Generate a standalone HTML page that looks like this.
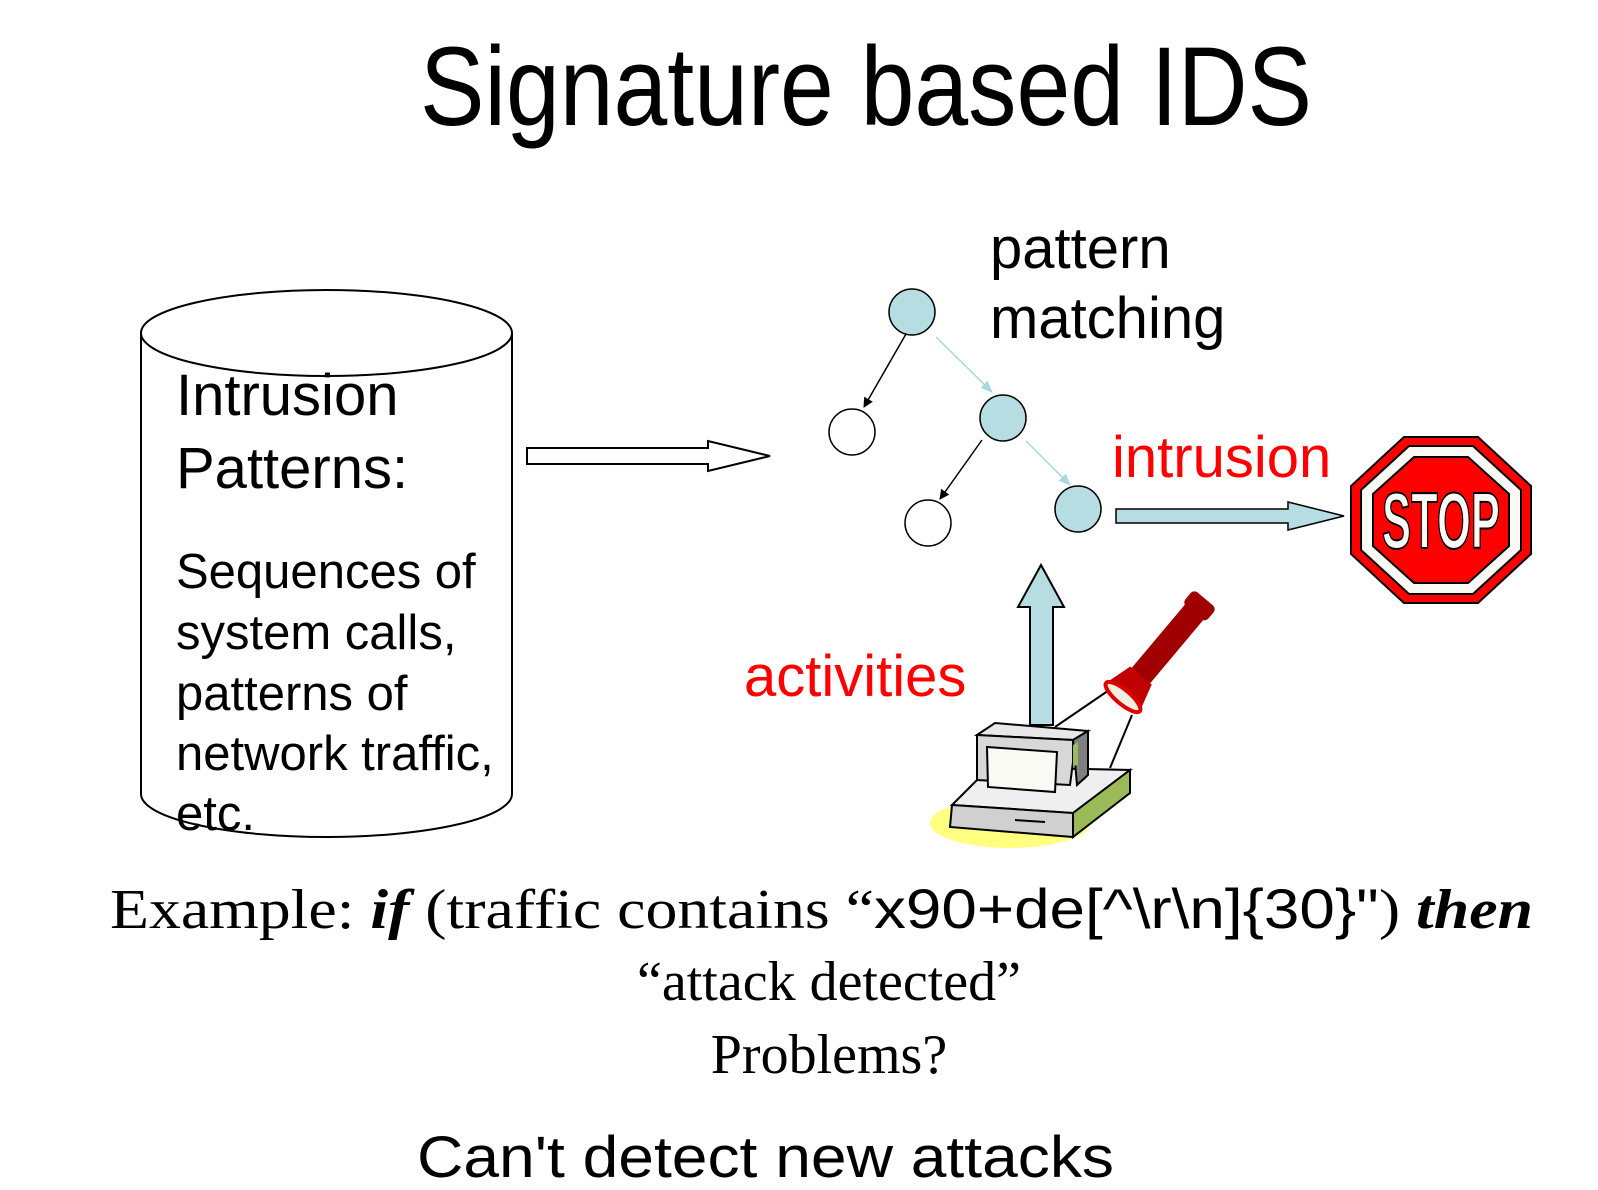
<!DOCTYPE html>
<html><head><meta charset="utf-8"><style>
html,body{margin:0;padding:0;background:#fff}
svg{display:block}
</style></head><body>
<svg width="1598" height="1190" viewBox="0 0 1598 1190" xmlns="http://www.w3.org/2000/svg">
<defs>
<marker id="ab" markerWidth="10" markerHeight="10" refX="9" refY="5" orient="auto" markerUnits="userSpaceOnUse"><path d="M0,0 L10,5 L0,10 z" fill="#000"/></marker>
<marker id="al" markerWidth="12" markerHeight="10" refX="11" refY="5" orient="auto" markerUnits="userSpaceOnUse"><path d="M0,0 L12,5 L0,10 z" fill="#a8d8dc"/></marker>
</defs>
<text x="420" y="125" font-family="Liberation Sans, sans-serif" font-size="112" textLength="892" lengthAdjust="spacingAndGlyphs">Signature based IDS</text>

<!-- cylinder -->
<path d="M141,333 L141,794 A185.5,43 0 0 0 512,794 L512,333" fill="#fff" stroke="#000" stroke-width="2"/>
<ellipse cx="326.5" cy="333" rx="185.5" ry="43" fill="#fff" stroke="#000" stroke-width="2"/>
<g font-family="Liberation Sans, sans-serif" fill="#000">
<text x="176" y="415" font-size="58">Intrusion</text>
<text x="176" y="488" font-size="58">Patterns:</text>
<text x="176" y="588" font-size="49">Sequences of</text>
<text x="176" y="649" font-size="49">system calls,</text>
<text x="176" y="710" font-size="49">patterns of</text>
<text x="176" y="770" font-size="49">network traffic,</text>
<text x="176" y="830" font-size="49">etc.</text>
</g>

<!-- hollow arrow -->
<path d="M527,448 L708,448 L708,441 L770,456 L708,471 L708,464 L527,464 z" fill="#fff" stroke="#000" stroke-width="2"/>

<!-- tree -->
<line x1="906" y1="334" x2="864" y2="407" stroke="#000" stroke-width="1.5" marker-end="url(#ab)"/>
<line x1="936" y1="337" x2="992" y2="392" stroke="#a8d8dc" stroke-width="1.5" marker-end="url(#al)"/>
<line x1="982" y1="440" x2="940" y2="499" stroke="#000" stroke-width="1.5" marker-end="url(#ab)"/>
<line x1="1026" y1="441" x2="1070" y2="485" stroke="#a8d8dc" stroke-width="1.5" marker-end="url(#al)"/>
<circle cx="912" cy="312" r="23" fill="#b5dde2" stroke="#000" stroke-width="1.5"/>
<circle cx="852" cy="432" r="23" fill="#fff" stroke="#000" stroke-width="1.5"/>
<circle cx="1003" cy="418" r="23" fill="#b5dde2" stroke="#000" stroke-width="1.5"/>
<circle cx="928" cy="523" r="23" fill="#fff" stroke="#000" stroke-width="1.5"/>
<circle cx="1078" cy="509" r="23" fill="#b5dde2" stroke="#000" stroke-width="1.5"/>

<g font-family="Liberation Sans, sans-serif">
<text x="990" y="268" font-size="58">pattern</text>
<text x="990" y="338" font-size="58">matching</text>
<text x="1112" y="477" font-size="58" fill="#f00">intrusion</text>
<text x="744" y="696" font-size="58" fill="#f00">activities</text>
</g>

<!-- right arrow -->
<path d="M1116,509 L1288,509 L1288,502 L1344,516 L1288,530 L1288,523 L1116,523 z" fill="#b5dde2" stroke="#000" stroke-width="1.5"/>

<!-- stop sign -->
<g transform="translate(1441,520)">
<polygon points="-37,-83 37,-83 90,-34 90,34 37,83 -37,83 -90,34 -90,-34" fill="#f00" stroke="#000" stroke-width="2"/>
<polygon points="-32,-74 32,-74 80,-30 80,30 32,74 -32,74 -80,30 -80,-30" fill="#fafaf5" stroke="#000" stroke-width="2"/>
<polygon points="-27,-63 27,-63 68,-26 68,26 27,63 -27,63 -68,26 -68,-26" fill="#f00" stroke="#000" stroke-width="2"/>
<text x="0" y="28" text-anchor="middle" font-family="Liberation Sans, sans-serif" font-weight="bold" font-size="80" fill="#fafaf5" stroke="#000" stroke-width="2" textLength="118" lengthAdjust="spacingAndGlyphs">STOP</text>
</g>

<!-- up arrow -->
<path d="M1030,725 L1030,607 L1018,607 L1041,565 L1064,607 L1053,607 L1053,725 z" fill="#b5dde2" stroke="#000" stroke-width="2"/>

<!-- computer -->
<ellipse cx="1010" cy="823" rx="80" ry="25" fill="#ffff80"/>
<line x1="1055" y1="727" x2="1118" y2="684" stroke="#000" stroke-width="2"/>
<line x1="1110" y1="768" x2="1132" y2="715" stroke="#000" stroke-width="2"/>
<polygon points="952,805 990,767 1130,770 1073,813" fill="#efefef" stroke="#000" stroke-width="2"/>
<polygon points="952,805 1073,813 1073,837 950,827" fill="#d0d0d0" stroke="#000" stroke-width="2"/>
<polygon points="1073,813 1130,770 1130,793 1073,837" fill="#9bbb59" stroke="#000" stroke-width="2"/>
<line x1="1015" y1="820" x2="1045" y2="822" stroke="#000" stroke-width="2"/>
<polygon points="977,735 995,723 1088,731 1073,740" fill="#e8e8e8" stroke="#000" stroke-width="2"/>
<polygon points="977,735 1073,740 1073,762 1070,785 977,780" fill="#d8d8d8" stroke="#000" stroke-width="2"/>
<polygon points="1073,740 1088,731 1088,775 1077,785" fill="#808080" stroke="#000" stroke-width="2"/>
<polygon points="1073,745 1078,742 1078,765 1073,766" fill="#9bbb59"/>
<polygon points="987,747 1057,752 1055,792 988,787" fill="#fafaf5" stroke="#000" stroke-width="2"/>
<!-- flashlight -->
<g transform="translate(1123,697) rotate(-50)">
<rect x="18" y="-12" width="100" height="24" rx="4" fill="#a00000"/>
<rect x="110" y="-15" width="18" height="30" rx="5" fill="#a00000"/>
<path d="M0,-22 L28,-14 L28,14 L0,22 z" fill="#c00000"/>
<ellipse cx="0" cy="0" rx="7" ry="22" fill="#f0f0e0" stroke="#e00000" stroke-width="4"/>
</g>

<!-- bottom text -->
<text x="110" y="928" font-family="Liberation Serif, serif" font-size="56" textLength="1423" lengthAdjust="spacingAndGlyphs">Example: <tspan font-style="italic" font-weight="bold">if</tspan> (traffic contains “<tspan font-family="Liberation Sans, sans-serif">x90+de[^\r\n]{30}"</tspan>) <tspan font-style="italic" font-weight="bold">then</tspan></text>
<text x="829" y="1000" text-anchor="middle" font-family="Liberation Serif, serif" font-size="56">“attack detected”</text>
<text x="829" y="1073" text-anchor="middle" font-family="Liberation Serif, serif" font-size="56">Problems?</text>
<text x="417" y="1177" font-family="Liberation Sans, sans-serif" font-size="58" textLength="697" lengthAdjust="spacingAndGlyphs">Can't detect new attacks</text>
</svg>
</body></html>
